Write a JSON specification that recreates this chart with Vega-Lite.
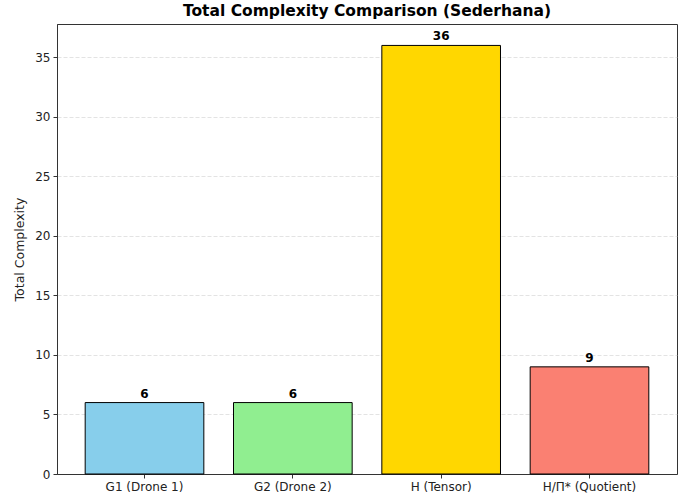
{
  "$schema": "https://vega.github.io/schema/vega-lite/v6.json",
  "width": 620,
  "height": 450,
  "autosize": "none",
  "padding": {"left": 57, "top": 24, "right": 16, "bottom": 23},
  "background": "white",
  "title": {"text": "Total Complexity Comparison (Sederhana)", "font": "DejaVu Sans", "fontSize": 15.5, "fontWeight": "bold", "color": "black", "offset": 5},
  "config": {
    "view": {"stroke": "#333333", "strokeWidth": 1},
    "axis": {"labelFont": "DejaVu Sans", "titleFont": "DejaVu Sans", "labelFontSize": 12, "titleFontSize": 12.5, "labelColor": "#222", "titleColor": "#222", "domainColor": "#333", "tickColor": "#333", "titleFontWeight": "normal"}
  },
  "data": {"values": [
    {"graph": "G1 (Drone 1)", "complexity": 6},
    {"graph": "G2 (Drone 2)", "complexity": 6},
    {"graph": "H (Tensor)", "complexity": 36},
    {"graph": "H/Π* (Quotient)", "complexity": 9}
  ]},
  "encoding": {
    "x": {"field": "graph", "type": "nominal", "sort": null,
      "scale": {"paddingInner": 0.2, "paddingOuter": 0.19},
      "axis": {"title": null, "labelAngle": 0, "labelPadding": 3, "tickSize": 4, "grid": false}},
    "y": {"field": "complexity", "type": "quantitative",
      "scale": {"domain": [0, 37.8], "nice": false},
      "axis": {"title": "Total Complexity", "values": [0,5,10,15,20,25,30,35], "tickSize": 4, "labelPadding": 3, "titlePadding": 8, "grid": true, "gridDash": [4,2], "gridColor": "#cccccc", "gridOpacity": 0.7, "gridWidth": 0.8}}
  },
  "layer": [
    {"mark": {"type": "bar", "stroke": "black", "strokeWidth": 1},
     "encoding": {"color": {"field": "graph", "type": "nominal", "sort": null, "legend": null,
       "scale": {"range": ["#87CEEB", "#90EE90", "#FFD700", "#FA8072"]}}}},
    {"mark": {"type": "text", "baseline": "alphabetic", "dy": -5, "font": "DejaVu Sans", "fontSize": 12, "fontWeight": "bold", "color": "black"},
     "encoding": {"text": {"field": "complexity", "type": "quantitative"}}}
  ]
}
